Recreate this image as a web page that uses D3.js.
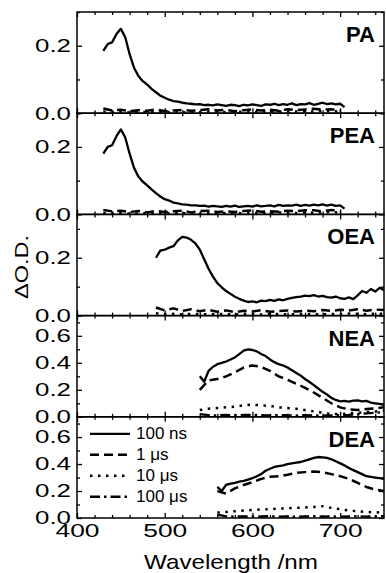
<!DOCTYPE html>
<html>
<head>
<meta charset="utf-8">
<script src="https://cdn.jsdelivr.net/npm/d3@7/dist/d3.min.js"></script>
<style>
  body { margin: 0; background: #fff; }
  svg text { font-family: "Liberation Sans", Arial, sans-serif; fill: #000; }
</style>
</head>
<body>
<svg id="grafico" width="386" height="573"></svg>
<script>
// comprimentos de onda (nm) e valores de ΔO.D.
const wlPA = [430,435,440,445,450,455,460,465,470,475,480,485,490,495,500,505,510,515,520,525,530,535,540,545,550,555,560,565,570,575,580,585,590,595,600,605,610,615,620,625,630,635,640,645,650,655,660,665,670,675,680,685,690,695,700,705];
const wlPAc = [430,440,450,460,470,480,490,500,510,520,530,540,550,560,570,580,590,600,610,620,630,640,650,660,670,680,690,700];
const paNs100 = [0.185,0.205,0.21,0.235,0.25,0.225,0.175,0.135,0.11,0.095,0.085,0.072,0.062,0.052,0.046,0.040,0.036,0.034,0.031,0.029,0.028,0.026,0.027,0.024,0.025,0.023,0.026,0.024,0.022,0.025,0.024,0.021,0.025,0.023,0.026,0.024,0.022,0.026,0.025,0.028,0.024,0.027,0.025,0.029,0.024,0.027,0.026,0.030,0.025,0.028,0.031,0.027,0.029,0.026,0.028,0.018];
const paUs1 = [0.014,0.008,0.010,0.006,0.009,0.007,0.011,0.006,0.008,0.010,0.007,0.009,0.012,0.008,0.010,0.006,0.009,0.011,0.008,0.010,0.007,0.012,0.009,0.011,0.013,0.010,0.012,0.008];
const paUs10 = [0.005,0.003,0.004,0.002,0.004,0.003,0.005,0.003,0.004,0.002,0.004,0.003,0.005,0.004,0.003,0.005,0.004,0.003,0.005,0.004,0.006,0.004,0.005,0.006,0.005,0.007,0.006,0.005];

const peaNs100 = [0.18,0.2,0.205,0.232,0.252,0.228,0.18,0.138,0.112,0.097,0.086,0.074,0.063,0.053,0.045,0.041,0.035,0.033,0.030,0.029,0.027,0.027,0.025,0.026,0.023,0.025,0.024,0.022,0.025,0.023,0.026,0.022,0.024,0.025,0.023,0.027,0.024,0.025,0.027,0.024,0.028,0.025,0.027,0.026,0.029,0.025,0.028,0.026,0.029,0.027,0.030,0.026,0.029,0.025,0.027,0.017];
const peaUs1 = [0.013,0.009,0.011,0.007,0.010,0.006,0.010,0.007,0.009,0.011,0.006,0.010,0.011,0.007,0.009,0.007,0.010,0.012,0.008,0.009,0.008,0.011,0.010,0.012,0.012,0.009,0.013,0.009];
const peaUs10 = [0.004,0.003,0.005,0.002,0.003,0.004,0.005,0.002,0.004,0.003,0.004,0.002,0.005,0.003,0.004,0.005,0.003,0.004,0.005,0.003,0.006,0.005,0.004,0.006,0.005,0.006,0.007,0.005];

const wlOEA = [490,495,500,505,510,515,520,525,530,535,540,545,550,555,560,565,570,575,580,585,590,595,600,605,610,615,620,625,630,635,640,645,650,655,660,665,670,675,680,685,690,695,700,705,710,715,720,725,730,735,740,745,750];
const wlOEAc = [490,500,510,520,530,540,550,560,570,580,590,600,610,620,630,640,650,660,670,680,690,700,710,720,730,740,750];
const oeaNs100 = [0.20,0.225,0.228,0.235,0.24,0.26,0.272,0.27,0.262,0.25,0.228,0.195,0.162,0.135,0.112,0.098,0.085,0.075,0.065,0.058,0.052,0.047,0.049,0.046,0.052,0.050,0.054,0.051,0.056,0.053,0.058,0.061,0.064,0.066,0.069,0.067,0.071,0.066,0.068,0.064,0.062,0.066,0.060,0.058,0.063,0.057,0.070,0.085,0.079,0.092,0.083,0.096,0.088];
const oeaUs1 = [0.028,0.018,0.025,0.016,0.022,0.015,0.020,0.013,0.018,0.012,0.017,0.014,0.019,0.013,0.016,0.018,0.014,0.017,0.015,0.019,0.016,0.020,0.018,0.022,0.017,0.021,0.019];
const oeaUs10 = [0.008,0.005,0.006,0.004,0.006,0.005,0.004,0.006,0.005,0.004,0.006,0.005,0.004,0.005,0.006,0.004,0.005,0.006,0.005,0.004,0.006,0.005,0.007,0.006,0.005,0.007,0.006];

const wlNEA = [540,545,550,555,560,565,570,575,580,585,590,595,600,605,610,615,620,625,630,635,640,645,650,655,660,665,670,675,680,685,690,695,700,705,710,715,720,725,730,735,740,745,750];
const wlNEAc = [540,550,560,570,580,590,600,610,620,630,640,650,660,670,680,690,700,710,720,730,740,750];
const neaNs100 = [0.30,0.26,0.34,0.37,0.39,0.40,0.41,0.425,0.44,0.465,0.49,0.50,0.495,0.485,0.465,0.45,0.425,0.405,0.39,0.38,0.365,0.345,0.325,0.305,0.28,0.258,0.235,0.21,0.185,0.165,0.14,0.125,0.115,0.118,0.112,0.12,0.122,0.115,0.118,0.105,0.10,0.095,0.088];
const neaUs1 = [0.20,0.27,0.28,0.30,0.33,0.365,0.38,0.37,0.34,0.30,0.275,0.245,0.215,0.18,0.14,0.10,0.07,0.055,0.05,0.058,0.062,0.07];
const neaUs10 = [0.05,0.06,0.065,0.07,0.075,0.085,0.09,0.085,0.08,0.07,0.065,0.06,0.05,0.04,0.03,0.02,0.02,0.025,0.03,0.035,0.04,0.045];
const neaUs100 = [0.02,0.012,0.01,0.014,0.011,0.013,0.015,0.012,0.01,0.013,0.011,0.009,0.012,0.01,0.008,0.01,0.012,0.014,0.02,0.025,0.03,0.035];

const wlDEA = [560,565,570,575,580,585,590,595,600,605,610,615,620,625,630,635,640,645,650,655,660,665,670,675,680,685,690,695,700,705,710,715,720,725,730,735,740,745,750];
const wlDEAc = [560,570,580,590,600,610,620,630,640,650,660,670,680,690,700,710,720,730,740,750];
const deaNs100 = [0.23,0.20,0.245,0.255,0.26,0.27,0.275,0.285,0.295,0.31,0.325,0.35,0.365,0.378,0.385,0.39,0.40,0.405,0.41,0.415,0.425,0.435,0.445,0.452,0.45,0.445,0.435,0.42,0.405,0.39,0.37,0.355,0.34,0.325,0.31,0.305,0.30,0.295,0.29];
const deaUs1 = [0.20,0.18,0.22,0.245,0.265,0.29,0.305,0.31,0.32,0.335,0.34,0.345,0.34,0.325,0.31,0.29,0.26,0.23,0.21,0.20];
const deaUs10 = [0.04,0.045,0.05,0.055,0.06,0.063,0.065,0.07,0.072,0.075,0.078,0.082,0.088,0.075,0.065,0.055,0.05,0.045,0.04,0.045];
const deaUs100 = [0.025,0.012,0.01,0.012,0.009,0.011,0.013,0.01,0.012,0.009,0.011,0.013,0.01,0.012,0.009,0.011,0.013,0.01,0.012,0.014];

const legendLabels = ["100 ns", "1 \u03bcs", "10 \u03bcs", "100 \u03bcs"];
const xTicks = [400, 500, 600, 700];

// estilos das linhas: 0 = 100 ns, 1 = 1 us, 2 = 10 us, 3 = 100 us
const lineStyles = [
  {dash: null, width: 2.3},
  {dash: "9,5", width: 2.5},
  {dash: "2.5,5.5", width: 2.5},
  {dash: "10,4,2.5,4", width: 2.4}
];

const panels = [
  {name: "PA",  yMax: 0.3,  labels: [0, 0.2], minor: [0.1, 0.3],
   series: [[wlPA, paNs100], [wlPAc, paUs1], [wlPAc, paUs10]].map((s, i) => ({wl: s[0], v: s[1], style: i}))},
  {name: "PEA", yMax: 0.3,  labels: [0, 0.2], minor: [0.1, 0.3],
   series: [[wlPA, peaNs100], [wlPAc, peaUs1], [wlPAc, peaUs10]].map((s, i) => ({wl: s[0], v: s[1], style: i}))},
  {name: "OEA", yMax: 0.35, labels: [0, 0.2], minor: [0.1, 0.3],
   series: [[wlOEA, oeaNs100], [wlOEAc, oeaUs1], [wlOEAc, oeaUs10]].map((s, i) => ({wl: s[0], v: s[1], style: i}))},
  {name: "NEA", yMax: 0.75, labels: [0, 0.2, 0.4, 0.6], minor: [0.1, 0.3, 0.5, 0.7],
   series: [[wlNEA, neaNs100], [wlNEAc, neaUs1], [wlNEAc, neaUs10], [wlNEAc, neaUs100]].map((s, i) => ({wl: s[0], v: s[1], style: i}))},
  {name: "DEA", yMax: 0.75, labels: [0, 0.2, 0.4, 0.6], minor: [0.1, 0.3, 0.5, 0.7],
   series: [[wlDEA, deaNs100], [wlDEAc, deaUs1], [wlDEAc, deaUs10], [wlDEAc, deaUs100]].map((s, i) => ({wl: s[0], v: s[1], style: i}))}
];

const plotLeft = 77, plotRight = 384, plotTop = 12, panelH = 101.2;
const svg = d3.select("#grafico");

const x = d3.scaleLinear().domain([400, 750]).range([plotLeft, plotRight]);
const xMinor = d3.range(400, 751, 20).filter(d => d % 100 !== 0);

panels.forEach(function(p, k) {
  let y0 = plotTop + k * panelH, y1 = y0 + panelH;
  let y = d3.scaleLinear().domain([0, p.yMax]).range([y1, y0]);
  let g = svg.append("g");

  g.append("clipPath").attr("id", "clip" + k)
    .append("rect").attr("x", plotLeft).attr("y", y0).attr("width", plotRight - plotLeft).attr("height", panelH);

  // -- linhas
  let line = d3.line().x(d => x(d[0])).y(d => y(d[1]));
  p.series.forEach(function(s) {
    let st = lineStyles[s.style];
    g.append("path")
      .attr("d", line(s.wl.map((w, i) => [w, s.v[i]])))
      .attr("clip-path", "url(#clip" + k + ")")
      .attr("fill", "none")
      .attr("stroke", "#000")
      .attr("stroke-width", st.width)
      .attr("stroke-dasharray", st.dash)
      .attr("stroke-linejoin", "round");
  });

  // -- eixos (ticks para dentro, nos quatro lados)
  let yMaj = d3.axisLeft(y).tickValues(p.labels).tickSize(-5).tickFormat(d3.format(".1f")).tickPadding(6);
  let yMin = d3.axisLeft(y).tickValues(p.minor).tickSize(-3).tickFormat("");
  let yMajR = d3.axisRight(y).tickValues(p.labels).tickSize(-5).tickFormat("");
  let yMinR = d3.axisRight(y).tickValues(p.minor).tickSize(-3).tickFormat("");
  let xMajB = d3.axisBottom(x).tickValues(xTicks).tickSize(-5).tickPadding(6).tickFormat(k === panels.length - 1 ? d3.format("d") : "");
  let xMinB = d3.axisBottom(x).tickValues(xMinor).tickSize(-3).tickFormat("");
  let xMajT = d3.axisTop(x).tickValues(xTicks).tickSize(-5).tickFormat("");
  let xMinT = d3.axisTop(x).tickValues(xMinor).tickSize(-3).tickFormat("");

  [[yMaj, plotLeft, 0, 36], [yMin, plotLeft, 0], [yMajR, plotRight, 0], [yMinR, plotRight, 0],
   [xMajB, 0, y1, 44], [xMinB, 0, y1], [xMajT, 0, y0], [xMinT, 0, y0]].forEach(function(a) {
    let ax = g.append("g").attr("transform", "translate(" + a[1] + "," + a[2] + ")").call(a[0]);
    ax.select(".domain").remove();
    ax.selectAll(".tick line").attr("stroke", "#000").attr("stroke-width", 1.3);
    // os rotulos do original sao mais largos que a Arial
    ax.selectAll("text").style("font-size", "18.5px").attr("fill", "#000")
      .attr("textLength", a[3] || null).attr("lengthAdjust", "spacingAndGlyphs");
  });

  g.append("rect")
    .attr("x", plotLeft).attr("y", y0).attr("width", plotRight - plotLeft).attr("height", panelH)
    .attr("fill", "none").attr("stroke", "#000").attr("stroke-width", 1.5);

  g.append("text")
    .attr("x", 375).attr("y", y0 + 30)
    .attr("text-anchor", "end")
    .style("font-size", "22px").style("font-weight", "bold")
    .text(p.name);
});

// -- legenda no painel DEA
let lastTop = plotTop + 4 * panelH;
let legend = svg.append("g");
legendLabels.forEach(function(lbl, i) {
  let st = lineStyles[i];
  let ly = lastTop + 17 + i * 21;
  legend.append("line")
    .attr("x1", 90).attr("x2", 130).attr("y1", ly).attr("y2", ly)
    .attr("stroke", "#000").attr("stroke-width", st.width)
    .attr("stroke-dasharray", st.dash);
  legend.append("text")
    .attr("x", 136).attr("y", ly).attr("dy", "0.33em")
    .style("font-size", "17px")
    .text(lbl);
});

// -- titulos dos eixos
svg.append("text")
  .attr("x", 231).attr("y", 569)
  .attr("text-anchor", "middle")
  .attr("textLength", 174).attr("lengthAdjust", "spacingAndGlyphs")
  .style("font-size", "21px")
  .text("Wavelength /nm");

svg.append("text")
  .attr("transform", "translate(28," + 267 + ") rotate(-90)")
  .attr("text-anchor", "middle")
  .attr("textLength", 64).attr("lengthAdjust", "spacingAndGlyphs")
  .style("font-size", "18.5px")
  .text("\u0394O.D.");
</script>
</body>
</html>
